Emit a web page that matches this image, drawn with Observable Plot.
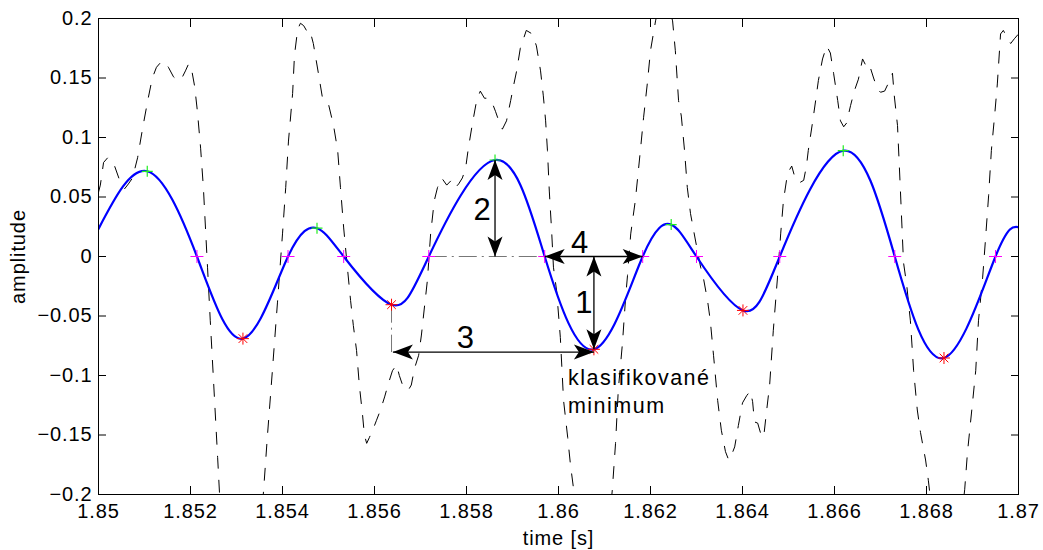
<!DOCTYPE html>
<html>
<head>
<meta charset="utf-8">
<script src="https://cdn.jsdelivr.net/npm/d3@7"></script>
<script src="https://cdn.jsdelivr.net/npm/@observablehq/plot@0.6"></script>
<style>
  body { margin: 0; background: #fff; }
</style>
</head>
<body>
<div id="chart"></div>
<script>
// ---------- data ----------
// raw (dashed) signal
const rawT = [
  1.85000,1.85004,1.85011,1.85020,1.85026,1.85035,1.85046,1.85057,1.85065,1.85074,
  1.85085,1.85096,1.85107,1.85117,1.85126,1.85135,1.85143,1.85152,1.85163,1.85172,
  1.85180,1.85189,1.85196,1.85202,1.85209,1.85215,1.85222,1.85228,1.85237,1.85243,
  1.85250,1.85259,1.85265,1.85309,1.85352,1.85359,1.85367,1.85378,1.85389,1.85400,
  1.85407,1.85413,1.85422,1.85426,1.85433,1.85439,1.85446,1.85452,1.85459,1.85467,
  1.85478,1.85487,1.85493,1.85500,1.85511,1.85520,1.85526,1.85533,1.85541,1.85548,
  1.85554,1.85561,1.85567,1.85574,1.85578,1.85583,1.85589,1.85596,1.85604,1.85613,
  1.85622,1.85630,1.85639,1.85648,1.85654,1.85661,1.85667,1.85674,1.85680,1.85687,
  1.85696,1.85702,1.85709,1.85715,1.85722,1.85730,1.85737,1.85746,1.85757,1.85767,
  1.85776,1.85783,1.85791,1.85798,1.85804,1.85813,1.85822,1.85830,1.85839,1.85848,
  1.85857,1.85863,1.85872,1.85878,1.85887,1.85896,1.85902,1.85909,1.85917,1.85930,
  1.85943,1.85952,1.85961,1.85967,1.85972,1.85976,1.85980,1.85985,1.85989,1.85996,
  1.86004,1.86011,1.86020,1.86026,1.86033,1.86039,1.86074,1.86111,1.86117,1.86124,
  1.86130,1.86139,1.86146,1.86150,1.86157,1.86167,1.86178,1.86185,1.86193,1.86200,
  1.86211,1.86228,1.86248,1.86254,1.86261,1.86267,1.86274,1.86280,1.86287,1.86298,
  1.86309,1.86315,1.86324,1.86330,1.86337,1.86346,1.86354,1.86363,1.86370,1.86376,
  1.86383,1.86391,1.86400,1.86409,1.86417,1.86422,1.86426,1.86433,1.86439,1.86446,
  1.86452,1.86459,1.86467,1.86476,1.86483,1.86489,1.86498,1.86507,1.86515,1.86524,
  1.86533,1.86539,1.86543,1.86552,1.86559,1.86565,1.86574,1.86583,1.86591,1.86598,
  1.86607,1.86613,1.86620,1.86626,1.86635,1.86643,1.86652,1.86661,1.86670,1.86676,
  1.86685,1.86693,1.86700,1.86709,1.86720,1.86726,1.86730,1.86737,1.86743,1.86750,
  1.86757,1.86765,1.86772,1.86780,1.86787,1.86798,1.86804,1.86809,1.86841,1.86878,
  1.86883,1.86889,1.86900,1.86907,1.86913,1.86922,1.86928,1.86935,1.86941,1.86948,
  1.86954,1.86961,1.86967,1.86974,1.86983,1.86991,1.87000
];
const rawV = [
  0.054,0.060,0.079,0.083,0.081,0.076,0.064,0.057,0.061,0.066,
  0.083,0.108,0.131,0.150,0.159,0.163,0.164,0.159,0.151,0.148,
  0.149,0.156,0.162,0.158,0.143,0.122,0.091,0.058,-0.009,-0.054,
  -0.104,-0.169,-0.213,-0.297,-0.230,-0.196,-0.152,-0.096,-0.039,0.019,
  0.058,0.097,0.137,0.169,0.191,0.196,0.194,0.190,0.191,0.179,
  0.154,0.133,0.131,0.128,0.110,0.089,0.058,0.024,-0.009,-0.037,
  -0.058,-0.079,-0.108,-0.133,-0.150,-0.157,-0.152,-0.146,-0.138,-0.129,
  -0.118,-0.107,-0.096,-0.091,-0.100,-0.108,-0.108,-0.112,-0.108,-0.094,
  -0.083,-0.066,-0.041,-0.020,0.019,0.047,0.058,0.066,0.060,0.064,
  0.058,0.061,0.066,0.074,0.091,0.112,0.131,0.139,0.133,0.133,
  0.128,0.122,0.112,0.107,0.114,0.131,0.143,0.156,0.175,0.190,
  0.187,0.177,0.156,0.135,0.114,0.089,0.055,0.022,-0.009,-0.029,
  -0.068,-0.121,-0.152,-0.175,-0.196,-0.213,-0.263,-0.221,-0.196,-0.157,
  -0.112,-0.073,-0.034,-0.016,0.019,0.047,0.089,0.117,0.145,0.173,
  0.198,0.227,0.198,0.173,0.131,0.118,0.089,0.058,0.036,0.013,
  -0.009,-0.018,-0.037,-0.054,-0.083,-0.121,-0.146,-0.164,-0.171,-0.167,
  -0.160,-0.142,-0.123,-0.117,-0.113,-0.122,-0.139,-0.140,-0.148,-0.152,
  -0.131,-0.108,-0.062,-0.018,0.019,0.047,0.070,0.076,0.065,0.062,
  0.064,0.076,0.089,0.112,0.131,0.148,0.166,0.177,0.171,0.154,
  0.131,0.114,0.109,0.112,0.127,0.139,0.149,0.166,0.159,0.161,
  0.150,0.141,0.138,0.139,0.148,0.154,0.135,0.110,0.058,-0.005,
  -0.024,-0.054,-0.096,-0.129,-0.148,-0.171,-0.188,-0.205,-0.272,-0.213,
  -0.196,-0.165,-0.123,-0.096,-0.054,-0.018,0.013,0.051,0.089,0.118,
  0.145,0.187,0.190,0.185,0.179,0.183,0.187
];

// filtered (blue) signal: end values, maxima, minima, zero crossings
const edgeT = [1.85000, 1.87000];
const edgeV = [0.0232, 0.0246];
const maxT = [1.85106, 1.85475, 1.85862, 1.86245, 1.86619];
const maxV = [0.0716, 0.0238, 0.0811, 0.0268, 0.0889];
const minT = [1.85314, 1.85637, 1.86077, 1.86401, 1.86838];
const minV = [-0.0690, -0.0405, -0.0780, -0.0453, -0.0853];
const zeroT = [1.85214, 1.85412, 1.85533, 1.85718, 1.85970, 1.86183, 1.86300, 1.86481, 1.86731, 1.86950];

// axis ticks
const xTicks = [1.85, 1.852, 1.854, 1.856, 1.858, 1.86, 1.862, 1.864, 1.866, 1.868, 1.87];
const xTickLabels = ["1.85", "1.852", "1.854", "1.856", "1.858", "1.86", "1.862", "1.864", "1.866", "1.868", "1.87"];
const yTicks = [-0.2, -0.15, -0.1, -0.05, 0, 0.05, 0.1, 0.15, 0.2];
const yTickLabels = ["\u22120.2", "\u22120.15", "\u22120.1", "\u22120.05", "0", "0.05", "0.1", "0.15", "0.2"];

// annotation arrows (double headed) and their numbers
const arrowNames = ["2", "4", "1", "3"];
const arrowT1 = [1.85862, 1.85970, 1.86077, 1.85640];
const arrowV1 = [0.0811, 0, 0, -0.0803];
const arrowT2 = [1.85862, 1.86183, 1.86077, 1.86077];
const arrowV2 = [0, 0, -0.0780, -0.0803];
const labelText = "klasifikované\nminimum";

// ---------- build tables ----------
const raw = rawT.map((t, i) => ({t, v: rawV[i]}));
const maxima = maxT.map((t, i) => ({t, v: maxV[i]}));
const minima = minT.map((t, i) => ({t, v: minV[i]}));
const zeros = zeroT.map(t => ({t, v: 0}));
const filtered = [
  ...edgeT.map((t, i) => ({t, v: edgeV[i]})),
  ...maxima, ...minima, ...zeros
].sort((a, b) => a.t - b.t);

const arrows = arrowNames.map((name, i) => ({
  name, t1: arrowT1[i], v1: arrowV1[i], t2: arrowT2[i], v2: arrowV2[i],
  tm: (arrowT1[i] + arrowT2[i]) / 2, vm: (arrowV1[i] + arrowV2[i]) / 2
}));

// ---------- symbols ----------
function headSymbol(dx, dy) {
  const L = 20, W = 15, N = 5;
  const px = -dy, py = dx;
  const pt = (a, b) => [a * dx + b * px, a * dy + b * py];
  const pts = [pt(0, 0), pt(-L, -W / 2), pt(-L + N, 0), pt(-L, W / 2)];
  return {draw(ctx) {
    ctx.moveTo(pts[0][0], pts[0][1]);
    for (let k = 1; k < pts.length; ++k) ctx.lineTo(pts[k][0], pts[k][1]);
    ctx.closePath();
  }};
}
const plusSym = (r) => ({draw(ctx) {
  ctx.moveTo(-r, 0); ctx.lineTo(r, 0); ctx.moveTo(0, -r); ctx.lineTo(0, r);
}});
const starSym = (r) => ({draw(ctx) {
  const d = r * 0.72;
  ctx.moveTo(-r, 0); ctx.lineTo(r, 0); ctx.moveTo(0, -r); ctx.lineTo(0, r);
  ctx.moveTo(-d, -d); ctx.lineTo(d, d); ctx.moveTo(-d, d); ctx.lineTo(d, -d);
}});

// arrow heads: each end points away from the other end
const headMarks = [];
arrows.forEach(a => {
  const sx = Math.sign(a.t2 - a.t1), sy = Math.sign(a.v2 - a.v1);
  const dx = sx, dy = -sy; // screen direction from end 1 to end 2
  headMarks.push(Plot.dot([a], {x: "t2", y: "v2", r: 4, symbol: headSymbol(dx, dy), fill: "black", stroke: "none"}));
  headMarks.push(Plot.dot([a], {x: "t1", y: "v1", r: 4, symbol: headSymbol(-dx, -dy), fill: "black", stroke: "none"}));
});

// offsets of the arrow numbers from the arrow midpoints
const numberOffsets = {"2": [-13, 2], "4": [-14, -13], "1": [-10, 0], "3": [-28, -14]};

const dashDot = "18,5,2,5";

const chart = Plot.plot({
  width: 1043,
  height: 550,
  marginLeft: 98,
  marginRight: 25,
  marginTop: 18,
  marginBottom: 56,
  style: {fontFamily: "'Liberation Sans', Arial, Helvetica, sans-serif", fontSize: "20px", background: "white", color: "black"},
  x: {domain: [1.85, 1.87]},
  y: {domain: [-0.2, 0.2]},
  marks: [
    // raw signal
    Plot.line(raw, {x: "t", y: "v", stroke: "black", strokeWidth: 1, strokeDasharray: "12,12", clip: true}),
    // gray dash-dot helper lines
    Plot.link([{t1: zeroT[3], v1: 0, t2: zeroT[4], v2: 0}], {x1: "t1", y1: "v1", x2: "t2", y2: "v2", stroke: "#777", strokeWidth: 1, strokeDasharray: dashDot}),
    Plot.link([{t1: minT[1], v1: minV[1], t2: minT[1], v2: arrowV1[3]}], {x1: "t1", y1: "v1", x2: "t2", y2: "v2", stroke: "#777", strokeWidth: 1, strokeDasharray: dashDot}),
    // filtered signal
    Plot.line(filtered, {x: "t", y: "v", stroke: "#0000ff", strokeWidth: 2.2, curve: "natural", clip: true}),
    // markers
    Plot.dot(zeros, {x: "t", y: "v", r: 4, symbol: plusSym(6.5), stroke: "#ff00ff", fill: "none", strokeWidth: 1}),
    Plot.dot(maxima, {x: "t", y: "v", r: 4, symbol: plusSym(5.5), stroke: "#22ee22", fill: "none", strokeWidth: 1.2}),
    Plot.dot(minima, {x: "t", y: "v", r: 4, symbol: starSym(6), stroke: "#ff0000", fill: "none", strokeWidth: 1}),
    // arrows
    Plot.link(arrows, {x1: "t1", y1: "v1", x2: "t2", y2: "v2", stroke: "black", strokeWidth: 1.3}),
    ...headMarks,
    ...arrows.map(a => Plot.text([a], {x: "tm", y: "vm", text: "name", fontSize: 31, textAnchor: "middle", lineAnchor: "middle",
      dx: numberOffsets[a.name][0], dy: numberOffsets[a.name][1]})),
    Plot.text([minima[2]], {x: "t", y: "v", text: () => labelText, fontSize: 21.5, textAnchor: "start", lineAnchor: "top",
      lineHeight: 1.284, dx: -26, dy: 16}),
    // axes with inward ticks (MATLAB style box)
    Plot.axisX(xTicks, {anchor: "bottom", tickSize: -8, tickPadding: 17.5, tickFormat: d => xTickLabels[xTicks.indexOf(d)], label: null}),
    Plot.axisX(xTicks, {anchor: "top", tickSize: -8, tickFormat: () => "", label: null}),
    Plot.axisY(yTicks, {anchor: "left", tickSize: -8, tickPadding: 14, tickFormat: d => yTickLabels[yTicks.indexOf(d)], label: null}),
    Plot.axisY(yTicks, {anchor: "right", tickSize: -8, tickFormat: () => "", label: null}),
    Plot.frame({stroke: "black", strokeWidth: 1}),
    // axis titles
    Plot.text(["time [s]"], {frameAnchor: "bottom", text: d => d, lineAnchor: "top", dy: 36.5}),
    Plot.text(["amplitude"], {frameAnchor: "left", text: d => d, rotate: -90, lineAnchor: "top", textAnchor: "middle", dx: -87.5})
  ]
});

// letter spacing to match the wide rendering of the original figure
d3.select(chart).selectAll("text").each(function() {
  const el = d3.select(this);
  const txt = this.textContent;
  if (arrowNames.includes(txt)) el.style("letter-spacing", "0px");
  else if (txt.includes("klasifikovan")) el.style("letter-spacing", "1.5px");
  else el.style("letter-spacing", "0.9px");
});
document.getElementById("chart").appendChild(chart);
</script>
</body>
</html>
